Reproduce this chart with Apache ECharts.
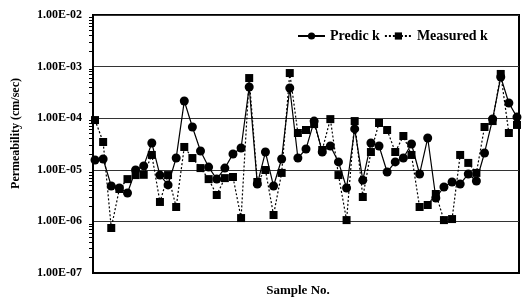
<!DOCTYPE html>
<html><head><meta charset="utf-8">
<script src="https://cdn.jsdelivr.net/npm/echarts@6/dist/echarts.min.js"></script>
<style>html,body{margin:0;padding:0;background:#fff}#c{width:522px;height:298px}</style>
</head><body><div id="c"></div>
<script>
// ---- data ----
const sampleNo = Array.from({length: 53}, (_, i) => i + 1);
const predicK = [
  1.55e-5, 1.62e-5, 4.85e-6, 4.44e-6, 3.55e-6, 9.9e-6, 1.19e-5, 3.30e-5, 7.9e-6, 5.1e-6,
  1.69e-5, 2.15e-4, 6.75e-5, 2.31e-5, 1.13e-5, 6.6e-6, 1.08e-5, 2.02e-5, 2.64e-5, 4.03e-4,
  5.3e-6, 2.21e-5, 4.85e-6, 1.62e-5, 3.85e-4, 1.69e-5, 2.53e-5, 8.8e-5, 2.21e-5, 2.89e-5,
  1.42e-5, 4.44e-6, 6.2e-5, 6.3e-6, 3.30e-5, 2.89e-5, 9.06e-6, 1.42e-5, 1.69e-5, 3.16e-5,
  8.3e-6, 4.13e-5, 2.84e-6, 4.64e-6, 5.8e-6, 5.3e-6, 8.3e-6, 6.07e-6, 2.12e-5, 9.64e-5,
  6.28e-4, 1.97e-4, 1.05e-4
];
const measuredK = [
  9.2e-5, 3.46e-5, 7.45e-7, 4.25e-6, 6.6e-6, 7.9e-6, 8.0e-6, 1.94e-5, 2.38e-6, 7.9e-6,
  1.9e-6, 2.77e-5, 1.69e-5, 1.08e-5, 6.6e-6, 3.25e-6, 6.9e-6, 7.25e-6, 1.16e-6, 6.0e-4,
  5.8e-6, 9.9e-6, 1.33e-6, 8.7e-6, 7.5e-4, 5.16e-5, 5.9e-5, 7.7e-5, 2.42e-5, 9.6e-5,
  7.9e-6, 1.06e-6, 8.8e-5, 2.97e-6, 2.21e-5, 8.07e-5, 5.9e-5, 2.21e-5, 4.52e-5, 1.94e-5,
  1.9e-6, 2.08e-6, 3.4e-6, 1.06e-6, 1.11e-6, 1.94e-5, 1.36e-5, 8.7e-6, 6.75e-5, 8.8e-5,
  7.2e-4, 5.16e-5, 7.4e-5
];
const yTickValues = [1e-7, 1e-6, 1e-5, 1e-4, 1e-3, 1e-2];
const yTickLabels = ['1.00E-07', '1.00E-06', '1.00E-05', '1.00E-04', '1.00E-03', '1.00E-02'];
const seriesNames = ['Predic k', 'Measured k'];
const xTitle = 'Sample No.';
const yTitle = 'Permeability (cm/sec)';

const FONT = '"Liberation Serif", "Times New Roman", serif';
const chart = echarts.init(document.getElementById('c'), null, {renderer: 'canvas'});

function yLabel(v) {
  const e = Math.round(Math.log10(v));
  for (let i = 0; i < yTickValues.length; i++) {
    if (Math.round(Math.log10(yTickValues[i])) === e) return yTickLabels[i];
  }
  return '';
}

chart.setOption({
  animation: false,
  backgroundColor: '#fff',
  grid: {left: 93, right: 3, top: 15, bottom: 25, outerBoundsMode: 'none', containLabel: false,
         show: true, borderColor: '#000', borderWidth: 2, backgroundColor: 'transparent'},
  legend: {
    left: 292, top: 24,
    itemWidth: 27, itemHeight: 9, itemGap: 4,
    textStyle: {fontFamily: FONT, fontWeight: 'bold', fontSize: 14, color: '#000'},
    data: seriesNames
  },
  xAxis: {
    type: 'value', min: 0.75, max: 53.25,
    axisLine: {show: true, lineStyle: {color: '#000', width: 2}},
    axisTick: {show: false}, axisLabel: {show: false}, splitLine: {show: false},
    name: xTitle, nameLocation: 'middle', nameGap: 11,
    nameTextStyle: {fontFamily: FONT, fontWeight: 'bold', fontSize: 13, color: '#000', padding: [0, 16, 0, 0]}
  },
  yAxis: {
    type: 'log', logBase: 10, min: 1e-7, max: 1e-2,
    axisLine: {show: true, lineStyle: {color: '#000', width: 2}},
    axisTick: {show: false},
    minorTick: {show: true, splitNumber: 9, length: 4, lineStyle: {color: '#000', width: 1}},
    axisLabel: {formatter: yLabel, margin: 11, fontFamily: FONT, fontWeight: 'bold', fontSize: 12, color: '#000'},
    splitLine: {show: true, lineStyle: {color: '#333', width: 1}}
  },
  graphic: [{
    type: 'text', left: 10, top: 78, rotation: Math.PI / 2,
    style: {text: yTitle, fontFamily: FONT, fontWeight: 'bold', fontSize: 12, fill: '#000'}
  }],
  series: [
    {
      name: seriesNames[0], type: 'line',
      data: sampleNo.map((n, i) => [n, predicK[i]]),
      symbol: 'circle', symbolSize: 9,
      itemStyle: {color: '#000'},
      lineStyle: {color: '#000', width: 1.2, type: 'solid'},
      z: 3
    },
    {
      name: seriesNames[1], type: 'line',
      data: sampleNo.map((n, i) => [n, measuredK[i]]),
      symbol: 'rect', symbolSize: 8,
      itemStyle: {color: '#000'},
      lineStyle: {color: '#000', width: 1.2, type: [2, 2]},
      z: 2
    }
  ]
});
</script>
</body></html>
